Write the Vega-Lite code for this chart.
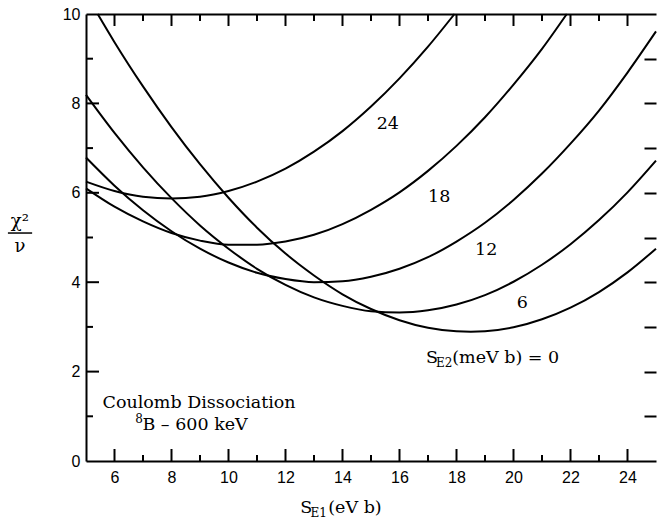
{
  "$schema": "https://vega.github.io/schema/vega-lite/v6.json",
  "autosize": {"type": "none"},
  "padding": {"left": 86, "top": 14, "right": 1, "bottom": 64},
  "width": 570,
  "height": 447,
  "background": "white",
  "config": {
    "view": {"stroke": null},
    "axis": {"domainColor": "black", "tickColor": "black", "labelColor": "black", "labelFont": "Liberation Sans", "labelFontSize": 16, "tickWidth": 2, "domainWidth": 2, "grid": false, "title": null}
  },
  "datasets": {
    "xmajor": [{"v": 6}, {"v": 8}, {"v": 10}, {"v": 12}, {"v": 14}, {"v": 16}, {"v": 18}, {"v": 20}, {"v": 22}, {"v": 24}],
    "xminor": [{"v": 7}, {"v": 9}, {"v": 11}, {"v": 13}, {"v": 15}, {"v": 17}, {"v": 19}, {"v": 21}, {"v": 23}],
    "ymajor": [{"v": 2}, {"v": 4}, {"v": 6}, {"v": 8}],
    "yminor": [{"v": 1}, {"v": 3}, {"v": 5}, {"v": 7}, {"v": 9}]
  },
  "resolve": {"axis": {"x": "independent", "y": "independent"}},
  "layer": [
    {
      "data": {"values": [
        {"s": "0", "x": 5.41, "y": 10}, {"s": "0", "x": 6, "y": 9.37}, {"s": "0", "x": 7, "y": 8.38}, {"s": "0", "x": 8, "y": 7.47}, {"s": "0", "x": 9, "y": 6.64}, {"s": "0", "x": 10, "y": 5.89}, {"s": "0", "x": 11, "y": 5.22}, {"s": "0", "x": 12, "y": 4.64}, {"s": "0", "x": 13, "y": 4.15}, {"s": "0", "x": 14, "y": 3.73}, {"s": "0", "x": 15, "y": 3.40}, {"s": "0", "x": 16, "y": 3.15}, {"s": "0", "x": 17, "y": 2.98}, {"s": "0", "x": 18, "y": 2.90}, {"s": "0", "x": 18.5, "y": 2.89}, {"s": "0", "x": 19, "y": 2.90}, {"s": "0", "x": 20, "y": 2.99}, {"s": "0", "x": 21, "y": 3.17}, {"s": "0", "x": 22, "y": 3.43}, {"s": "0", "x": 23, "y": 3.78}, {"s": "0", "x": 24, "y": 4.22}, {"s": "0", "x": 25, "y": 4.75},
        {"s": "6", "x": 5, "y": 8.19}, {"s": "6", "x": 6, "y": 7.34}, {"s": "6", "x": 7, "y": 6.57}, {"s": "6", "x": 8, "y": 5.88}, {"s": "6", "x": 9, "y": 5.27}, {"s": "6", "x": 10, "y": 4.75}, {"s": "6", "x": 11, "y": 4.30}, {"s": "6", "x": 12, "y": 3.94}, {"s": "6", "x": 13, "y": 3.66}, {"s": "6", "x": 14, "y": 3.47}, {"s": "6", "x": 15, "y": 3.35}, {"s": "6", "x": 16, "y": 3.32}, {"s": "6", "x": 17, "y": 3.37}, {"s": "6", "x": 18, "y": 3.50}, {"s": "6", "x": 19, "y": 3.71}, {"s": "6", "x": 20, "y": 4.01}, {"s": "6", "x": 21, "y": 4.39}, {"s": "6", "x": 22, "y": 4.85}, {"s": "6", "x": 23, "y": 5.39}, {"s": "6", "x": 24, "y": 6.01}, {"s": "6", "x": 25, "y": 6.72},
        {"s": "12", "x": 5, "y": 6.79}, {"s": "12", "x": 6, "y": 6.16}, {"s": "12", "x": 7, "y": 5.61}, {"s": "12", "x": 8, "y": 5.14}, {"s": "12", "x": 9, "y": 4.75}, {"s": "12", "x": 10, "y": 4.44}, {"s": "12", "x": 11, "y": 4.21}, {"s": "12", "x": 12, "y": 4.07}, {"s": "12", "x": 13, "y": 4.00}, {"s": "12", "x": 14, "y": 4.02}, {"s": "12", "x": 15, "y": 4.12}, {"s": "12", "x": 16, "y": 4.30}, {"s": "12", "x": 17, "y": 4.56}, {"s": "12", "x": 18, "y": 4.91}, {"s": "12", "x": 19, "y": 5.33}, {"s": "12", "x": 20, "y": 5.84}, {"s": "12", "x": 21, "y": 6.43}, {"s": "12", "x": 22, "y": 7.10}, {"s": "12", "x": 23, "y": 7.84}, {"s": "12", "x": 24, "y": 8.69}, {"s": "12", "x": 25, "y": 9.61},
        {"s": "18", "x": 5, "y": 6.10}, {"s": "18", "x": 6, "y": 5.69}, {"s": "18", "x": 7, "y": 5.36}, {"s": "18", "x": 8, "y": 5.10}, {"s": "18", "x": 9, "y": 4.93}, {"s": "18", "x": 10, "y": 4.84}, {"s": "18", "x": 11, "y": 4.84}, {"s": "18", "x": 12, "y": 4.91}, {"s": "18", "x": 13, "y": 5.06}, {"s": "18", "x": 14, "y": 5.30}, {"s": "18", "x": 15, "y": 5.62}, {"s": "18", "x": 16, "y": 6.01}, {"s": "18", "x": 17, "y": 6.49}, {"s": "18", "x": 18, "y": 7.05}, {"s": "18", "x": 19, "y": 7.69}, {"s": "18", "x": 20, "y": 8.42}, {"s": "18", "x": 21, "y": 9.22}, {"s": "18", "x": 21.87, "y": 10},
        {"s": "24", "x": 5, "y": 6.25}, {"s": "24", "x": 6, "y": 6.04}, {"s": "24", "x": 7, "y": 5.91}, {"s": "24", "x": 8, "y": 5.87}, {"s": "24", "x": 9, "y": 5.91}, {"s": "24", "x": 10, "y": 6.04}, {"s": "24", "x": 11, "y": 6.25}, {"s": "24", "x": 12, "y": 6.54}, {"s": "24", "x": 13, "y": 6.92}, {"s": "24", "x": 14, "y": 7.38}, {"s": "24", "x": 15, "y": 7.93}, {"s": "24", "x": 16, "y": 8.56}, {"s": "24", "x": 17, "y": 9.27}, {"s": "24", "x": 17.93, "y": 10}
      ]},
      "mark": {"type": "line", "color": "black", "strokeWidth": 2, "interpolate": "monotone"},
      "encoding": {
        "x": {"field": "x", "type": "quantitative", "scale": {"domain": [5, 25], "nice": false, "zero": false},
              "axis": {"orient": "bottom", "values": [6, 8, 10, 12, 14, 16, 18, 20, 22, 24], "ticks": false, "labelPadding": 8, "domain": true}},
        "y": {"field": "y", "type": "quantitative", "scale": {"domain": [0, 10], "nice": false, "zero": false},
              "axis": {"orient": "left", "values": [0, 2, 4, 6, 8, 10], "ticks": false, "labelPadding": 6, "domain": true}},
        "detail": {"field": "s"}
      }
    },
    {
      "data": {"values": [
        {"t": "Coulomb Dissociation", "x": 5.58, "y": 1.18},
        {"t": "B – 600 keV", "x": 6.98, "y": 0.69},
        {"t": "24", "x": 15.2, "y": 7.43},
        {"t": "18", "x": 17.0, "y": 5.80},
        {"t": "12", "x": 18.65, "y": 4.61},
        {"t": "6", "x": 20.11, "y": 3.42},
        {"t": "S", "x": 16.93, "y": 2.19},
        {"t": "(meV b) = 0", "x": 17.85, "y": 2.19},
        {"t": "S", "x": 12.52, "y": -1.16},
        {"t": "(eV b)", "x": 13.5, "y": -1.16}
      ]},
      "mark": {"type": "text", "align": "left", "baseline": "alphabetic", "font": "DejaVu Serif", "fontSize": 17.5, "color": "black"},
      "encoding": {
        "x": {"field": "x", "type": "quantitative", "scale": {"domain": [5, 25], "nice": false, "zero": false},
              "axis": {"orient": "top", "values": [6, 8, 10], "ticks": false, "labels": false, "domain": true}},
        "y": {"field": "y", "type": "quantitative", "scale": {"domain": [0, 10], "nice": false, "zero": false},
              "axis": {"orient": "right", "values": [1, 2, 3, 4, 5, 6, 7, 8, 9], "labels": false, "domain": false, "tickSize": -12}},
        "text": {"field": "t"}
      }
    },
    {
      "data": {"values": [
        {"t": "E2", "x": 17.28, "y": 2.1},
        {"t": "E1", "x": 12.88, "y": -1.25},
        {"t": "8", "x": 6.73, "y": 0.85}
      ]},
      "mark": {"type": "text", "align": "left", "baseline": "alphabetic", "font": "DejaVu Serif", "fontSize": 12, "color": "black"},
      "encoding": {
        "x": {"field": "x", "type": "quantitative", "scale": {"domain": [5, 25], "nice": false, "zero": false}, "axis": null},
        "y": {"field": "y", "type": "quantitative", "scale": {"domain": [0, 10], "nice": false, "zero": false}, "axis": null},
        "text": {"field": "t"}
      }
    },
    {
      "data": {"values": [
        {"t": "χ²", "x": 2.68, "y": 5.24},
        {"t": "ν", "x": 2.68, "y": 4.68}
      ]},
      "mark": {"type": "text", "align": "center", "baseline": "alphabetic", "font": "DejaVu Serif", "fontSize": 18, "color": "black"},
      "encoding": {
        "x": {"field": "x", "type": "quantitative", "scale": {"domain": [5, 25], "nice": false, "zero": false}, "axis": null},
        "y": {"field": "y", "type": "quantitative", "scale": {"domain": [0, 10], "nice": false, "zero": false}, "axis": null},
        "text": {"field": "t"}
      }
    },
    {
      "data": {"values": [
        {"x": 2.26, "x2": 3.11, "y": 5.1}
      ]},
      "mark": {"type": "rule", "color": "black", "strokeWidth": 1.5},
      "encoding": {
        "x": {"field": "x", "type": "quantitative", "scale": {"domain": [5, 25], "nice": false, "zero": false}, "axis": null},
        "x2": {"field": "x2"},
        "y": {"field": "y", "type": "quantitative", "scale": {"domain": [0, 10], "nice": false, "zero": false}, "axis": null}
      }
    },
    {
      "data": {"name": "xmajor"},
      "mark": {"type": "tick", "orient": "vertical", "size": 12, "thickness": 2, "color": "black", "opacity": 1, "yOffset": -6},
      "encoding": {
        "x": {"field": "v", "type": "quantitative", "scale": {"domain": [5, 25], "nice": false, "zero": false}, "axis": null},
        "y": {"datum": 0, "type": "quantitative", "scale": {"domain": [0, 10], "nice": false, "zero": false}, "axis": null}
      }
    },
    {
      "data": {"name": "xminor"},
      "mark": {"type": "tick", "orient": "vertical", "size": 6, "thickness": 2, "color": "black", "opacity": 1, "yOffset": -3},
      "encoding": {
        "x": {"field": "v", "type": "quantitative", "scale": {"domain": [5, 25], "nice": false, "zero": false}, "axis": null},
        "y": {"datum": 0, "type": "quantitative", "scale": {"domain": [0, 10], "nice": false, "zero": false}, "axis": null}
      }
    },
    {
      "data": {"name": "xmajor"},
      "mark": {"type": "tick", "orient": "vertical", "size": 12, "thickness": 2, "color": "black", "opacity": 1, "yOffset": 6},
      "encoding": {
        "x": {"field": "v", "type": "quantitative", "scale": {"domain": [5, 25], "nice": false, "zero": false}, "axis": null},
        "y": {"datum": 10, "type": "quantitative", "scale": {"domain": [0, 10], "nice": false, "zero": false}, "axis": null}
      }
    },
    {
      "data": {"name": "xminor"},
      "mark": {"type": "tick", "orient": "vertical", "size": 7, "thickness": 2, "color": "black", "opacity": 1, "yOffset": 3.5},
      "encoding": {
        "x": {"field": "v", "type": "quantitative", "scale": {"domain": [5, 25], "nice": false, "zero": false}, "axis": null},
        "y": {"datum": 10, "type": "quantitative", "scale": {"domain": [0, 10], "nice": false, "zero": false}, "axis": null}
      }
    },
    {
      "data": {"name": "ymajor"},
      "mark": {"type": "tick", "orient": "horizontal", "size": 13, "thickness": 2, "color": "black", "opacity": 1, "xOffset": 6.5},
      "encoding": {
        "y": {"field": "v", "type": "quantitative", "scale": {"domain": [0, 10], "nice": false, "zero": false}, "axis": null},
        "x": {"datum": 5, "type": "quantitative", "scale": {"domain": [5, 25], "nice": false, "zero": false}, "axis": null}
      }
    },
    {
      "data": {"name": "yminor"},
      "mark": {"type": "tick", "orient": "horizontal", "size": 7, "thickness": 2, "color": "black", "opacity": 1, "xOffset": 3.5},
      "encoding": {
        "y": {"field": "v", "type": "quantitative", "scale": {"domain": [0, 10], "nice": false, "zero": false}, "axis": null},
        "x": {"datum": 5, "type": "quantitative", "scale": {"domain": [5, 25], "nice": false, "zero": false}, "axis": null}
      }
    }
  ]
}
